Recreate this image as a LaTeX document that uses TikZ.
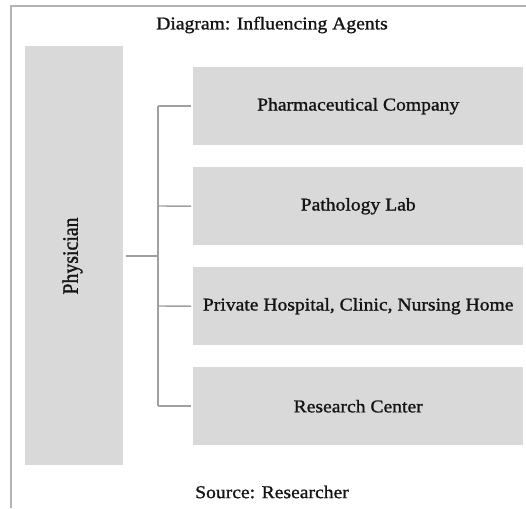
\documentclass[tikz,border=0pt]{standalone}
\usepackage{fontspec}
\setmainfont{Liberation Serif}[FakeStretch=1.09, FakeBold=1.2]
\newfontfamily\narrowserif{Liberation Serif}[FakeStretch=0.9, FakeBold=1.2]
\begin{document}
\begin{tikzpicture}[x=1pt,y=-1pt,
  every node/.style={font=\fontsize{18}{20}\selectfont, text=black!92},
  box/.style={fill=boxgray, draw=none, inner sep=0pt},
  agent/.style={box, minimum width=330pt, minimum height=78pt, anchor=north west},
  link/.style={draw=linkgray, line width=1.4pt}]
\definecolor{boxgray}{HTML}{D9D9D9}
\definecolor{linkgray}{HTML}{A0A0A0}
\definecolor{framegray}{HTML}{B4B4B4}
\useasboundingbox (0,0) rectangle (526,508);

% outer frame
\draw[framegray, line width=2pt] (526,6.5) -- (10.5,6.5) -- (10.5,508);

% title and source
\node (title) at (272,25) {Diagram: Influencing Agents};
\node (source) at (272,492) {Source: Researcher};

% the physician column
\node[box, minimum width=98pt, minimum height=419pt, anchor=north west] (phys) at (25,46) {};
\node[rotate=90, font=\narrowserif\fontsize{22}{24}\selectfont] (physlabel) at (72.5,256) {Physician};

% the four influencing agents
\node[agent] (pharma) at (193,67) {};
\node (pharmalabel) at (pharma.center) {Pharmaceutical Company};
\node[agent] (lab) at (193,167) {};
\node (lablabel) at (lab.center) {Pathology Lab};
\node[agent] (hosp) at (193,267) {};
\node (hosplabel) at (hosp.center) {Private Hospital, Clinic, Nursing Home};
\node[agent] (research) at (193,367) {};
\node (researchlabel) at (research.center) {Research Center};

% bracket connectors
\coordinate (junction) at (158,256);
\coordinate (top) at (158,106);
\coordinate (bottom) at (158,406);
\draw[link] ([xshift=3pt]phys.east |- junction) -- (junction);
\draw[link] (top) -- (bottom);
\draw[link, shorten >=2pt] (top) -- (top -| pharma.west);
\draw[link, shorten >=2pt] (158,206) -- (lab.west);
\draw[link, shorten >=2pt] (158,306) -- (hosp.west);
\draw[link, shorten >=2pt] (bottom) -- (bottom -| research.west);
\end{tikzpicture}
\end{document}
